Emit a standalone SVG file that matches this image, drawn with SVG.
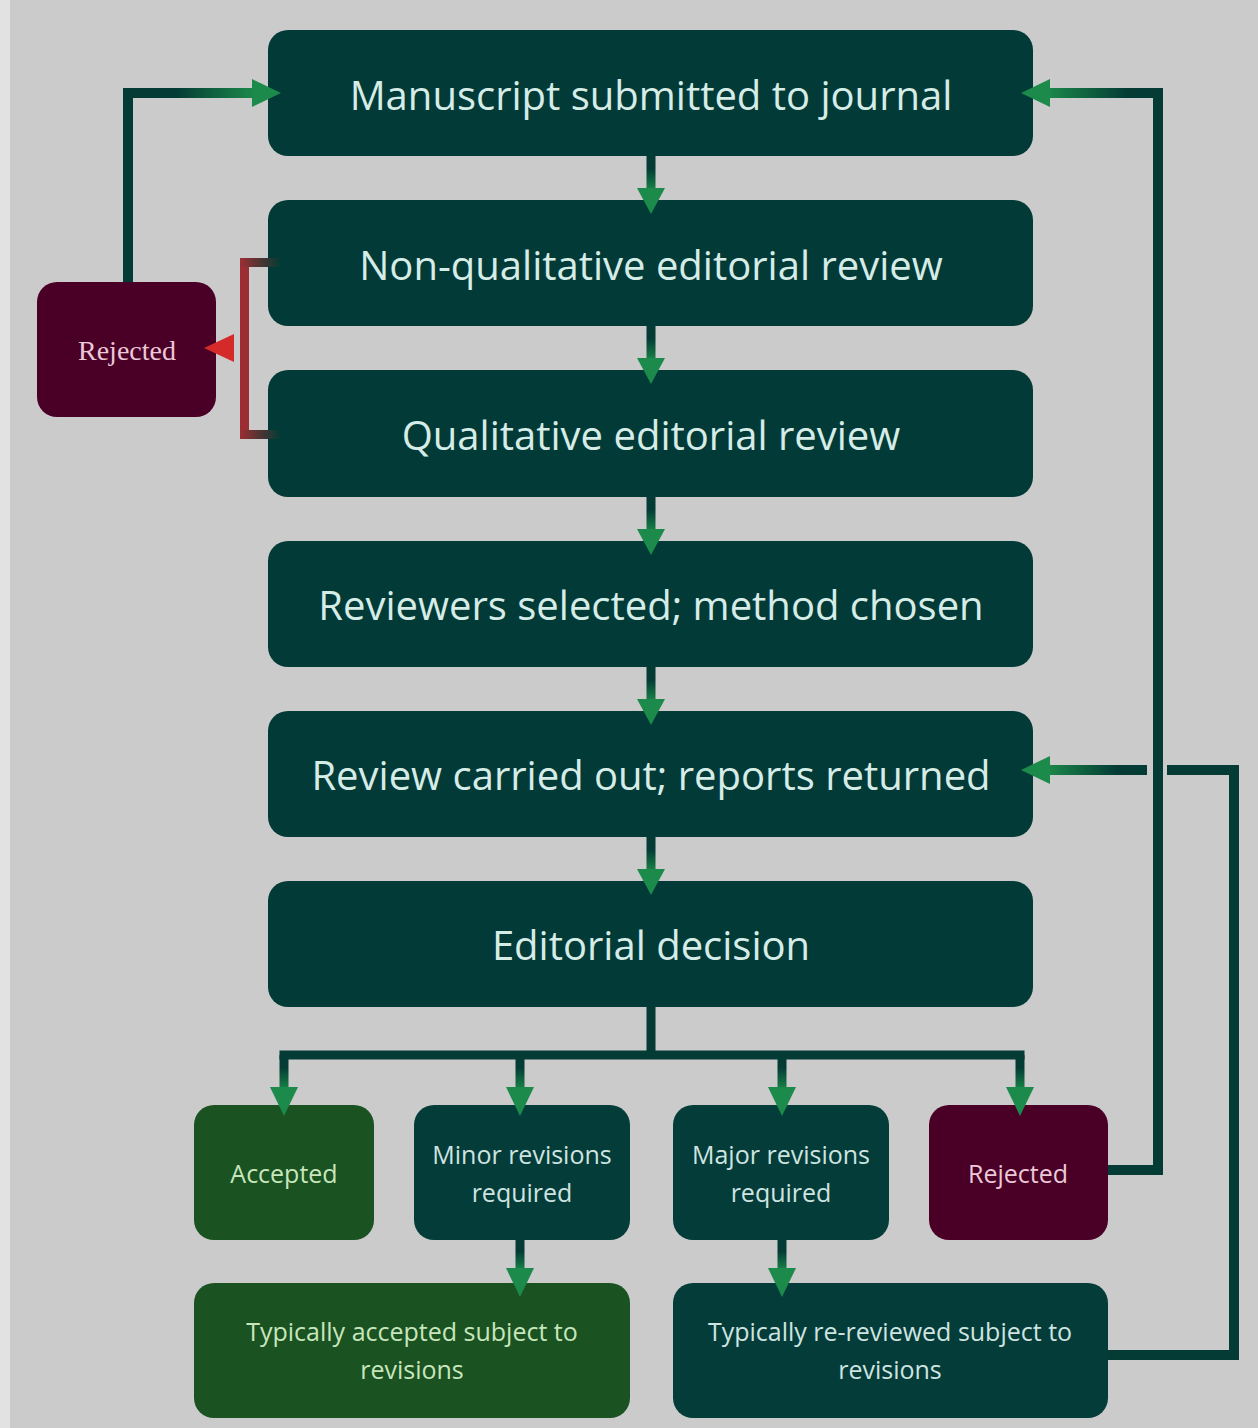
<svg xmlns="http://www.w3.org/2000/svg" width="1258" height="1428" viewBox="0 0 1258 1428">
<defs>
<style>
.main{fill:#023a37}
.teal{fill:#033c39}
.green{fill:#1a5222}
.maroon{fill:#4a0026}
.t1{font-family:"Open Sans","Liberation Sans",sans-serif;font-size:40px;fill:#d6ece7;text-anchor:middle;dominant-baseline:central}
.t2{font-family:"Open Sans","Liberation Sans",sans-serif;font-size:25px;fill:#cfe4e0;text-anchor:middle;dominant-baseline:central}
.tg{fill:#c8e6bc}
.tr{fill:#ecc8d8}
.tser{font-family:"Liberation Serif","DejaVu Serif",serif;font-size:28px;fill:#ecc8d8;text-anchor:middle;dominant-baseline:central}
.ln{fill:#043b35}
.ah{fill:#1c8a4a}
.red{fill:#9c2e33}
</style>
<linearGradient id="gDown" x1="0" y1="0" x2="0" y2="1"><stop offset="0" stop-color="#043b35"/><stop offset="0.35" stop-color="#043b35"/><stop offset="1" stop-color="#1c8a4a"/></linearGradient>
<linearGradient id="gRight" x1="0" y1="0" x2="1" y2="0"><stop offset="0" stop-color="#043b35"/><stop offset="0.4" stop-color="#043b35"/><stop offset="1" stop-color="#1c8a4a"/></linearGradient>
<linearGradient id="gLeft" x1="1" y1="0" x2="0" y2="0"><stop offset="0" stop-color="#043b35"/><stop offset="0.3" stop-color="#043b35"/><stop offset="1" stop-color="#1c8a4a"/></linearGradient>
<linearGradient id="gRedL" x1="1" y1="0" x2="0" y2="0"><stop offset="0" stop-color="#9c2e33"/><stop offset="1" stop-color="#043b35"/></linearGradient>
</defs>
<rect width="1258" height="1428" fill="#cbcbcb"/>
<rect width="10" height="1428" fill="#e2e2e2"/>

<g id="n-manuscript"><rect class="main" x="268" y="30" width="765" height="126" rx="20"/><text class="t1" x="651" y="94">Manuscript submitted to journal</text></g>
<g id="n-nonqual"><rect class="main" x="268" y="200" width="765" height="126" rx="20"/><text class="t1" x="651" y="264">Non-qualitative editorial review</text></g>
<g id="n-qual"><rect class="main" x="268" y="370" width="765" height="127" rx="20"/><text class="t1" x="651" y="434">Qualitative editorial review</text></g>
<g id="n-reviewers"><rect class="main" x="268" y="541" width="765" height="126" rx="20"/><text class="t1" x="651" y="604">Reviewers selected; method chosen</text></g>
<g id="n-review"><rect class="main" x="268" y="711" width="765" height="126" rx="20"/><text class="t1" x="651" y="774">Review carried out; reports returned</text></g>
<g id="n-decision"><rect class="main" x="268" y="881" width="765" height="126" rx="20"/><text class="t1" x="651" y="944">Editorial decision</text></g>

<g id="n-rejected-early"><rect class="maroon" x="37" y="282" width="179" height="135" rx="20"/><text class="tser" x="127" y="350">Rejected</text></g>

<g id="n-accepted"><rect class="green" x="194" y="1105" width="180" height="135" rx="20"/><text class="t2 tg" x="284" y="1173">Accepted</text></g>
<g id="n-minor"><rect class="teal" x="414" y="1105" width="216" height="135" rx="20"/><text class="t2" x="522" y="1154">Minor revisions</text><text class="t2" x="522" y="1192">required</text></g>
<g id="n-major"><rect class="teal" x="673" y="1105" width="216" height="135" rx="20"/><text class="t2" x="781" y="1154">Major revisions</text><text class="t2" x="781" y="1192">required</text></g>
<g id="n-rejected"><rect class="maroon" x="929" y="1105" width="179" height="135" rx="20"/><text class="t2 tr" x="1018" y="1173">Rejected</text></g>
<g id="n-typ-accepted"><rect class="green" x="194" y="1283" width="436" height="135" rx="20"/><text class="t2 tg" x="412" y="1331">Typically accepted subject to</text><text class="t2 tg" x="412" y="1369">revisions</text></g>
<g id="n-typ-rereviewed"><rect class="teal" x="673" y="1283" width="435" height="135" rx="20"/><text class="t2" x="890" y="1331">Typically re-reviewed subject to</text><text class="t2" x="890" y="1369">revisions</text></g>

<g id="connectors">
<rect x="646.5" y="156" width="9" height="36" fill="url(#gDown)"/>
<polygon class="ah" points="637,188 665,188 651,214"/>
<rect x="646.5" y="326" width="9" height="36" fill="url(#gDown)"/>
<polygon class="ah" points="637,358 665,358 651,384"/>
<rect x="646.5" y="497" width="9" height="36" fill="url(#gDown)"/>
<polygon class="ah" points="637,529 665,529 651,555"/>
<rect x="646.5" y="667" width="9" height="36" fill="url(#gDown)"/>
<polygon class="ah" points="637,699 665,699 651,725"/>
<rect x="646.5" y="837" width="9" height="36" fill="url(#gDown)"/>
<polygon class="ah" points="637,869 665,869 651,895"/>

<rect x="123" y="88" width="10" height="194" class="ln"/>
<rect x="123" y="88" width="132" height="10" fill="url(#gRight)"/>
<polygon class="ah" points="252,79 252,107 281,93"/>

<rect x="240" y="258" width="9" height="181" class="red"/>
<rect x="240" y="258" width="40" height="9" fill="url(#gRedL)" transform="rotate(180 260 262.5)"/>
<rect x="240" y="430" width="40" height="9" fill="url(#gRedL)" transform="rotate(180 260 434.5)"/>
<polygon fill="#d42a2a" points="234,334 234,362 204,348"/>

<rect x="1108" y="1165" width="55" height="10" class="ln"/>
<rect x="1153" y="88" width="10" height="1087" class="ln"/>
<rect x="1046" y="88" width="117" height="10" fill="url(#gLeft)"/>
<polygon class="ah" points="1050,79 1050,107 1021,93"/>

<rect x="1108" y="1350" width="131" height="10" class="ln"/>
<rect x="1229" y="765" width="10" height="595" class="ln"/>
<rect x="1167" y="765" width="72" height="10" class="ln"/>
<rect x="1046" y="765" width="101" height="10" fill="url(#gLeft)"/>
<polygon class="ah" points="1050,756 1050,784 1021,770"/>

<rect x="646.5" y="1007" width="9" height="52" class="ln"/>
<rect x="279.5" y="1050.5" width="745" height="9" class="ln"/>
<rect x="279.5" y="1055" width="9" height="36" fill="url(#gDown)"/>
<polygon class="ah" points="270,1087 298,1087 284,1116"/>
<rect x="515.5" y="1055" width="9" height="36" fill="url(#gDown)"/>
<polygon class="ah" points="506,1087 534,1087 520,1116"/>
<rect x="777.5" y="1055" width="9" height="36" fill="url(#gDown)"/>
<polygon class="ah" points="768,1087 796,1087 782,1116"/>
<rect x="1015.5" y="1055" width="9" height="36" fill="url(#gDown)"/>
<polygon class="ah" points="1006,1087 1034,1087 1020,1116"/>

<rect x="515.5" y="1240" width="9" height="32" fill="url(#gDown)"/>
<polygon class="ah" points="506,1268 534,1268 520,1297"/>
<rect x="777.5" y="1240" width="9" height="32" fill="url(#gDown)"/>
<polygon class="ah" points="768,1268 796,1268 782,1297"/>
</g>
</svg>
